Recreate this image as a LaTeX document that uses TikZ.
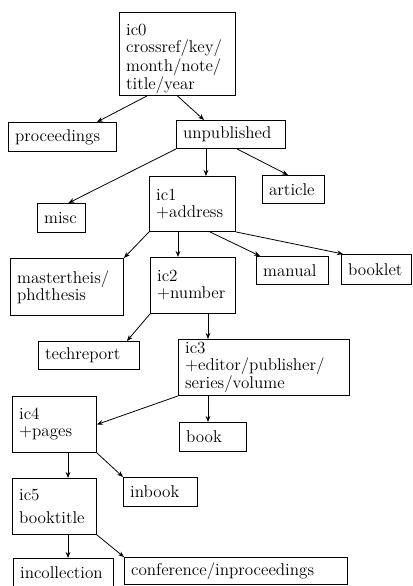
\documentclass[tikz,border=0pt]{standalone}
\usetikzlibrary{positioning, arrows.meta}

\begin{document}
\begin{tikzpicture}[
        x=0.75pt, y=-0.75pt,
        font=\fontsize{12.8}{12.75}\selectfont,
        >={Stealth[length=4.5pt, width=3.5pt]},
        entry/.style={draw, line width=0.7pt, anchor=north west, align=left, inner xsep=5pt, inner ysep=1pt},
        link/.style={->, line width=0.6pt}
    ]

    \useasboundingbox (0,0) rectangle (412,586);

    % --- Top: ic0 and its children ---
    \node[entry, text width=77pt, minimum height=62.25pt] (ic0) at (119,12) {\rule{0pt}{16pt}ic0\\crossref/key/\\month/note/\\title/year};
    \node[entry, text width=71pt, minimum height=21.75pt] (proceedings) at (8,122) {proceedings};
    \node[entry, text width=71.75pt, minimum height=21pt] (unpublished) at (176,120) {unpublished};

    % --- unpublished level ---
    \node[entry, text width=26pt, minimum height=21.75pt] (misc) at (37,203) {misc};
    \node[entry, text width=54.5pt, minimum height=41.25pt] (ic1) at (149,176) {ic1\\+address};
    \node[entry, text width=36.5pt, minimum height=21pt] (article) at (262,175) {article};

    % --- ic1 level ---
    \node[entry, text width=74.75pt, minimum height=42.75pt] (thesis) at (10,258) {mastertheis/\\phdthesis};
    \node[entry, text width=53.75pt, minimum height=42pt] (ic2) at (150,257) {ic2\\+number};
    \node[entry, text width=44pt, minimum height=21pt] (manual) at (256,256) {manual};
    \node[entry, text width=42.5pt, minimum height=22.5pt] (booklet) at (341,254) {booklet};

    % --- ic2 level ---
    \node[entry, text width=65.75pt, minimum height=21pt] (techreport) at (38,341) {techreport};
    \node[entry, text width=118.25pt, minimum height=42pt] (ic3) at (178,339) {ic3\\+editor/publisher/\\series/volume};

    % --- ic3 level ---
    \node[entry, text width=53pt, minimum height=42pt] (ic4) at (12,396) {ic4\\+pages};
    \node[entry, text width=40.25pt, minimum height=21.75pt] (book) at (179,422) {book};

    % --- ic4 level ---
    \node[entry, text width=53pt, minimum height=42pt] (ic5) at (12,478) {ic5\\[4pt]booktitle};
    \node[entry, text width=45.5pt, minimum height=21.75pt] (inbook) at (123,477) {inbook};

    % --- ic5 level ---
    \node[entry, text width=65pt, minimum height=21pt] (incollection) at (13,558) {incollection};
    \node[entry, text width=157.25pt, minimum height=20.25pt] (conference) at (124,557) {conference/inproceedings};

    % Arrows
    \draw[link] ([xshift=21pt]ic0.south west) -- ([xshift=-15pt]proceedings.north east);
    \draw[link] (ic0.south) -- ([xshift=21pt]unpublished.north west);

    \draw[link] (unpublished.south west) -- ([xshift=5.25pt]misc.north);
    \draw[link] ([xshift=22.5pt]unpublished.south west) coordinate (u1) -- (u1 |- ic1.north);
    \draw[link] ([xshift=45.75pt]unpublished.south west) -- ([xshift=19.5pt]article.north west);

    \draw[link] (ic1.south west) -- (thesis.north east);
    \draw[link] ([xshift=21.75pt]ic1.south west) coordinate (i1) -- (i1 |- ic2.north);
    \draw[link] ([xshift=45.75pt]ic1.south west) -- ([xshift=3pt]manual.north west);
    \draw[link] (ic1.south east) -- ([xshift=1.5pt]booklet.north west);

    \draw[link] (ic2.south west) -- ([xshift=-9.75pt]techreport.north east);
    \draw[link] ([xshift=43.5pt]ic2.south west) coordinate (i2) -- (i2 |- ic3.north);

    \draw[link] (ic3.south west) -- (ic4.east);
    \draw[link] ([xshift=22.5pt]ic3.south west) coordinate (i3) -- (i3 |- book.north);

    \draw[link] ([xshift=42pt]ic4.south west) coordinate (i4) -- (i4 |- ic5.north);
    \draw[link] (ic4.south east) -- (inbook.north west);

    \draw[link] ([xshift=42pt]ic5.south west) coordinate (i5) -- (i5 |- incollection.north);
    \draw[link] (ic5.south east) -- (conference.north west);

\end{tikzpicture}
\end{document}
